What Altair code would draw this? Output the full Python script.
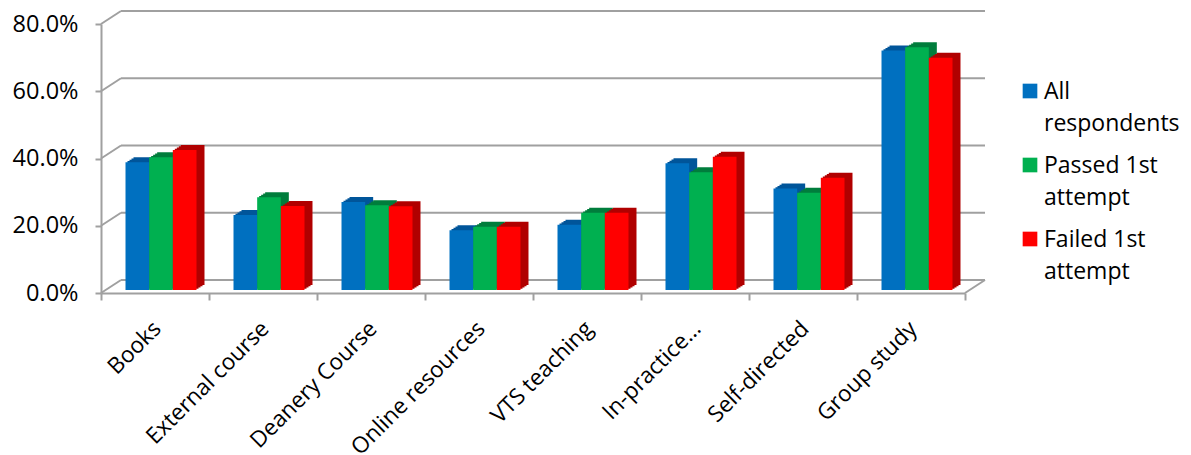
import altair as alt
import pandas as pd

# Study methods and the share of respondents using each one
categories = [
    "Books", "External course", "Deanery Course", "Online resources",
    "VTS teaching", "In-practice…", "Self-directed", "Group study",
]
series = ["All respondents", "Passed 1st attempt", "Failed 1st attempt"]
all_respondents = [38.0, 22.3, 26.2, 17.8, 19.4, 37.7, 30.2, 71.2]
passed_first = [39.5, 27.6, 25.2, 18.8, 23.0, 35.0, 28.9, 72.2]
failed_first = [41.6, 25.0, 24.9, 18.8, 23.0, 39.6, 33.4, 69.1]
y_ticks = [0.0, 0.2, 0.4, 0.6, 0.8]

front_colors = ["#0070C0", "#00B050", "#FF0000"]
shade_colors = ["#00559A", "#007D3C", "#B00000"]

rows = []
for s, vals in zip(series, [all_respondents, passed_first, failed_first]):
    for c, v in zip(categories, vals):
        rows.append({"category": c, "series": s, "value": v / 100})
df = pd.DataFrame(rows)
ticks_df = pd.DataFrame({"v": y_ticks})
series_df = pd.DataFrame({"series": series})

W, H = 864, 269          # front plane of the plot
DX, DY = 20, 13          # depth of the back wall
BAR_FRAC = 0.2191        # one bar's share of a category band
BAR_PX = W / len(categories) * BAR_FRAC
SHIFT_X, SHIFT_Y = 6, 3  # bars stand a little behind the front edge
DEPTH_X, DEPTH_Y = 8, 5  # extrusion of each bar
STEPS = 4                # slices used to draw the slanted extrusion
GRID = "#A0A0A0"
FONT = "Open Sans"
FS_Y = 23.5
FS_X = 22.5
FS_LEGEND = 23

y_scale = alt.Scale(domain=[0, 0.8])
y_axis = alt.Axis(
    values=y_ticks, format=".1%", grid=False, title=None,
    labelFontSize=FS_Y, labelFont=FONT, labelColor="#000000",
    tickSize=6, labelPadding=17, tickColor=GRID, tickWidth=2,
    domainColor=GRID, domainWidth=2,
)
color_scale = alt.Scale(domain=series, range=front_colors)

# back-wall gridlines
back_grid = alt.Chart(ticks_df).mark_rule(
    color=GRID, strokeWidth=2, yOffset=-DY
).encode(
    y=alt.Y("v:Q", scale=y_scale, axis=y_axis),
    x=alt.value(DX), x2=alt.value(W + DX),
)

# side-wall slants joining the front axis ticks to the back wall
side_slants = alt.Chart(ticks_df).mark_rule(
    color=GRID, strokeWidth=2, y2Offset=-DY
).encode(
    y=alt.Y("v:Q", scale=y_scale, axis=y_axis),
    y2="v:Q",
    x=alt.value(0), x2=alt.value(DX),
)

# right edge of the floor
floor_edge = alt.Chart(pd.DataFrame({"v": [0.0]})).mark_rule(
    color=GRID, strokeWidth=2, y2Offset=-DY
).encode(
    y=alt.Y("v:Q", scale=y_scale, axis=y_axis),
    y2="v:Q",
    x=alt.value(W), x2=alt.value(W + DX),
)

x_enc = alt.X(
    "category:N", sort=categories, title=None,
    scale=alt.Scale(paddingInner=0, paddingOuter=0),
    axis=alt.Axis(
        labelAngle=315, labelFontSize=FS_X, labelFont=FONT, labelColor="#000000",
        labelPadding=17, labelOffset=-6, labelLimit=300, tickBand="extent",
        tickSize=7, tickColor=GRID, tickWidth=2, domainColor=GRID, domainWidth=2,
    ),
)

depth_layers = []
front_layers = []
for j, s in enumerate(series):
    offset = (j - 1) * BAR_PX + SHIFT_X
    base = alt.Chart(df).transform_filter(alt.datum.series == s)
    # extruded top and right-side faces, built from a few stacked slices
    for k in range(1, STEPS + 1):
        depth_layers.append(
            base.mark_bar(
                width=alt.RelativeBandSize(BAR_FRAC),
                xOffset=offset + DEPTH_X * k / STEPS,
                yOffset=-(SHIFT_Y + DEPTH_Y * k / STEPS),
                color=shade_colors[j],
            ).encode(x=x_enc, y=alt.Y("value:Q", scale=y_scale, axis=y_axis))
        )
    # front face of the bar
    front_layers.append(
        base.mark_bar(
            width=alt.RelativeBandSize(BAR_FRAC),
            xOffset=offset, yOffset=-SHIFT_Y,
        ).encode(
            x=x_enc,
            y=alt.Y("value:Q", scale=y_scale, axis=y_axis),
            color=alt.Color("series:N", scale=color_scale, legend=None),
        )
    )

plot = alt.layer(back_grid, side_slants, floor_edge, *depth_layers, *front_layers)

# legend block at the right: a colour key and a two-line label per series
key_y = alt.Y("series:N", sort=series, axis=None,
              scale=alt.Scale(type="point", range=[67, 215], padding=0))
legend_keys = alt.Chart(series_df).mark_square(size=215, opacity=1).encode(
    y=key_y, x=alt.value(929),
    color=alt.Color("series:N", scale=color_scale, legend=None),
)
legend_text = alt.Chart(series_df).transform_calculate(
    lines="[slice(datum.series, 0, lastindexof(datum.series, ' ')), "
          "slice(datum.series, lastindexof(datum.series, ' ') + 1)]"
).mark_text(
    align="left", baseline="alphabetic", dy=7.5, lineHeight=32,
    fontSize=FS_LEGEND, font=FONT, color="#000000",
).encode(y=key_y, x=alt.value(943), text="lines:N")
legend = alt.layer(legend_keys, legend_text)

chart = alt.layer(plot, legend).resolve_scale(y="independent").properties(
    width=W, height=H,
    autosize=alt.AutoSizeParams(type="none"),
    padding={"left": 101, "top": 24, "right": 1191 - 101 - W, "bottom": 455 - 24 - H},
    background="white",
).configure_view(stroke=None)

chart.save("out.html", embed_options={"renderer": "svg", "actions": False})
